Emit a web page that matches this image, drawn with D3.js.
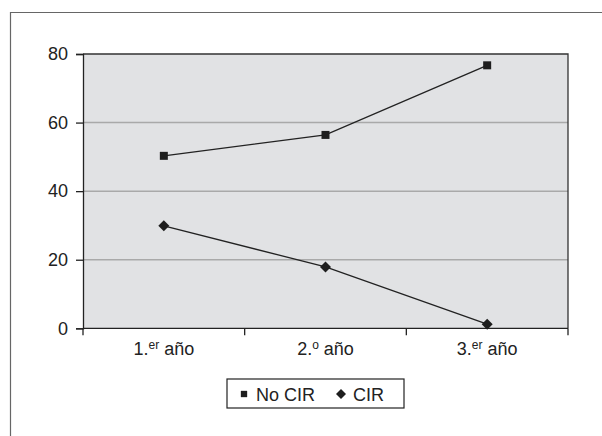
<!DOCTYPE html>
<html>
<head>
<meta charset="utf-8">
<script src="https://cdn.jsdelivr.net/npm/d3@7"></script>
<style>
  body { margin: 0; background: #fff; }
  text { font-family: "Liberation Sans", Arial, sans-serif; fill: #222; }
</style>
</head>
<body>
<svg id="chart" width="602" height="436"></svg>
<script>
// categories: [main, superscript, rest]
const years = [["1.", "er", " año"], ["2.", "o", " año"], ["3.", "er", " año"]];
const noCir = [50.3, 56.4, 76.7];
const cir = [29.9, 17.9, 1.2];
const yTicks = [0, 20, 40, 60, 80];

const svg = d3.select("#chart");
const plotL = 83, plotR = 568, plotT = 54, plotB = 328.3;

// outer frame (runs off the page right and bottom)
svg.append("path")
    .attr("d", "M10.5,440 V12.5 H610")
    .attr("fill", "none")
    .attr("stroke", "#666")
    .attr("stroke-width", 1.2);

const x = d3.scaleBand().domain(d3.range(years.length)).range([plotL, plotR]);
const y = d3.scaleLinear().domain([0, 80]).range([plotB, plotT]);

svg.append("rect")
    .attr("x", plotL).attr("y", plotT)
    .attr("width", plotR - plotL).attr("height", plotB - plotT)
    .attr("fill", "#e1e2e4");

// gridlines
svg.selectAll(".grid")
    .data(yTicks.filter(d => d > 0 && d < 80))
    .enter().append("line")
    .attr("x1", plotL).attr("x2", plotR)
    .attr("y1", d => y(d)).attr("y2", d => y(d))
    .attr("stroke", "#a9a9a9").attr("stroke-width", 1.5);

// top and right border
svg.append("path")
    .attr("d", `M${plotL},${plotT} H${plotR} V${plotB}`)
    .attr("fill", "none").attr("stroke", "#333").attr("stroke-width", 1.3);

// y axis
const yAxis = svg.append("g")
    .attr("transform", `translate(${plotL},0)`)
    .call(d3.axisLeft(y).tickValues(yTicks).tickSize(7).tickPadding(8));
yAxis.select(".domain").attr("stroke", "#222").attr("stroke-width", 1.3);
yAxis.selectAll(".tick line").attr("stroke", "#222").attr("stroke-width", 1.3);
yAxis.selectAll("text").style("font-size", "18px").attr("fill", "#222")
    .style("font-family", '"Liberation Sans", Arial, sans-serif');

// x axis
const xAxis = svg.append("g")
    .attr("transform", `translate(0,${plotB})`);
xAxis.append("line")
    .attr("x1", plotL).attr("x2", plotR)
    .attr("stroke", "#222").attr("stroke-width", 1.3);
xAxis.selectAll(".xt")
    .data(d3.range(years.length + 1))
    .enter().append("line")
    .attr("x1", d => plotL + d * x.bandwidth()).attr("x2", d => plotL + d * x.bandwidth())
    .attr("y1", 0).attr("y2", 7)
    .attr("stroke", "#222").attr("stroke-width", 1.3);

const lbl = xAxis.selectAll(".xl")
    .data(years)
    .enter().append("text")
    .attr("x", (d, i) => x(i) + x.bandwidth() / 2)
    .attr("y", 27)
    .attr("text-anchor", "middle")
    .style("font-size", "18px");
lbl.append("tspan").text(d => d[0]);
lbl.append("tspan").attr("dy", -6).style("font-size", "12px").text(d => d[1]);
lbl.append("tspan").attr("dy", 6).text(d => d[2]);

// lines
const line = d3.line()
    .x((d, i) => x(i) + x.bandwidth() / 2)
    .y(d => y(d));

svg.append("path").datum(noCir).attr("d", line)
    .attr("fill", "none").attr("stroke", "#222").attr("stroke-width", 1.3);
svg.append("path").datum(cir).attr("d", line)
    .attr("fill", "none").attr("stroke", "#222").attr("stroke-width", 1.3);

const square = d3.symbol().type(d3.symbolSquare).size(64);
const diamond = d => `M0,${-d}L${d},0L0,${d}L${-d},0Z`;

svg.selectAll(".sq").data(noCir).enter().append("path")
    .attr("d", square)
    .attr("transform", (d, i) => `translate(${x(i) + x.bandwidth() / 2},${y(d)})`)
    .attr("fill", "#1e1e1e");
svg.selectAll(".dm").data(cir).enter().append("path")
    .attr("d", diamond(5.5))
    .attr("transform", (d, i) => `translate(${x(i) + x.bandwidth() / 2},${y(d)})`)
    .attr("fill", "#1e1e1e");

// legend
const lg = svg.append("g").attr("transform", "translate(227,379)");
lg.append("rect").attr("width", 177).attr("height", 29)
    .attr("fill", "#fff").attr("stroke", "#222").attr("stroke-width", 1.2);
lg.append("path").attr("d", d3.symbol().type(d3.symbolSquare).size(40))
    .attr("transform", "translate(17,15)").attr("fill", "#1e1e1e");
lg.append("text").attr("x", 29).attr("y", 21.5).style("font-size", "18px").text("No CIR");
lg.append("path").attr("d", diamond(5))
    .attr("transform", "translate(114,15)").attr("fill", "#1e1e1e");
lg.append("text").attr("x", 126).attr("y", 21.5).style("font-size", "18px").text("CIR");
</script>
</body>
</html>
